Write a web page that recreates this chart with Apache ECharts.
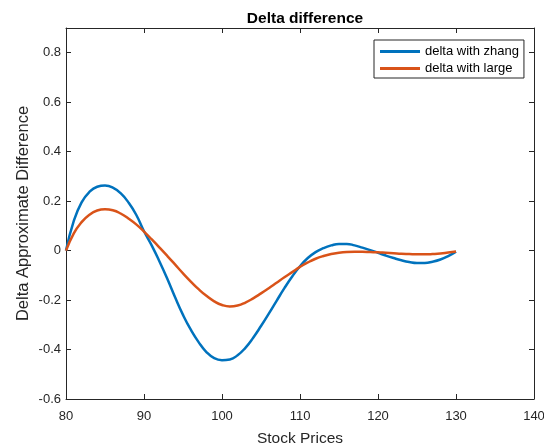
<!DOCTYPE html>
<html>
<head>
<meta charset="utf-8">
<script src="https://cdn.jsdelivr.net/npm/echarts@6/dist/echarts.min.js"></script>
<style>html,body{margin:0;padding:0;background:#fff}#c{width:544px;height:447px}</style>
</head>
<body>
<div id="c"></div>
<script>
const stockPrices = [80,81,82,83,84,85,86,87,88,89,90,91,92,93,94,95,96,97,98,99,100,101,102,103,104,105,106,107,108,109,110,111,112,113,114,115,116,117,118,119,120,121,122,123,124,125,126,127,128,129,130];
const deltaZhang = [0.00,0.12,0.195,0.237,0.258,0.263,0.255,0.232,0.195,0.145,0.078,0.02,-0.045,-0.115,-0.19,-0.26,-0.32,-0.37,-0.41,-0.435,-0.443,-0.44,-0.423,-0.393,-0.352,-0.305,-0.255,-0.203,-0.152,-0.105,-0.063,-0.03,-0.006,0.01,0.021,0.027,0.027,0.021,0.012,0.002,-0.009,-0.02,-0.03,-0.039,-0.046,-0.05,-0.05,-0.045,-0.036,-0.022,-0.004];
const deltaLarge = [0.00,0.07,0.115,0.145,0.162,0.167,0.163,0.15,0.13,0.106,0.077,0.045,0.012,-0.022,-0.057,-0.092,-0.125,-0.156,-0.183,-0.205,-0.22,-0.226,-0.222,-0.21,-0.193,-0.173,-0.152,-0.13,-0.108,-0.087,-0.066,-0.048,-0.033,-0.022,-0.014,-0.009,-0.006,-0.005,-0.005,-0.006,-0.007,-0.009,-0.011,-0.013,-0.014,-0.015,-0.015,-0.014,-0.012,-0.008,-0.004];
const seriesNames = ['delta with zhang','delta with large'];
const titleText = 'Delta difference';
const xName = 'Stock Prices';
const yName = 'Delta Approximate Difference';

const font = 'Liberation Sans, Arial, Helvetica, sans-serif';
const axisColor = '#262626';
const chart = echarts.init(document.getElementById('c'), null, {renderer:'canvas'});
const pairs = ys => stockPrices.map((x,i)=>[x, ys[i]]);
const yFmt = v => { if (Math.abs(Math.round(v/0.2)*0.2 - v) > 1e-6) return ''; return String(Math.round(v*10)/10); };
chart.setOption({
  animation:false,
  backgroundColor:'#fff',
  title:{text:titleText,left:300,textAlign:'center',top:6,textStyle:{fontFamily:font,fontSize:15.5,fontWeight:'bold',color:'#000'}},
  grid:{left:66,right:10,top:28,bottom:48,containLabel:false,outerBoundsMode:'none'},
  legend:{
    orient:'vertical',left:374,top:40,
    padding:[3,5,1,6],itemGap:0,itemWidth:40,itemHeight:3,icon:'rect',
    borderColor:axisColor,borderWidth:1,backgroundColor:'#fff',
    textStyle:{fontFamily:font,fontSize:13,color:'#000',lineHeight:17},
    data:seriesNames
  },
  xAxis:[
    {type:'value',min:80,max:140,interval:10,position:'bottom',
     name:xName,nameLocation:'middle',nameGap:32,
     nameTextStyle:{fontFamily:font,fontSize:15.5,color:axisColor},
     axisLine:{onZero:false,lineStyle:{color:axisColor,width:1}},
     axisTick:{inside:true,length:5,lineStyle:{color:axisColor}},
     axisLabel:{fontFamily:font,fontSize:13,color:axisColor,margin:11},
     splitLine:{show:false}},
    {type:'value',min:80,max:140,interval:10,position:'top',
     axisLine:{onZero:false,lineStyle:{color:axisColor,width:1}},
     axisTick:{inside:true,length:5,lineStyle:{color:axisColor}},
     axisLabel:{show:false},splitLine:{show:false}}
  ],
  yAxis:[
    {type:'value',min:-0.6,max:0.9,interval:0.2,position:'left',
     name:yName,nameLocation:'middle',nameGap:34,nameMoveOverlap:false,
     nameTextStyle:{fontFamily:font,fontSize:16.5,color:axisColor},
     axisLine:{show:true,onZero:false,lineStyle:{color:axisColor,width:1}},
     axisTick:{show:true,inside:true,length:5,lineStyle:{color:axisColor}},
     axisLabel:{fontFamily:font,fontSize:13,color:axisColor,margin:5,formatter:yFmt},
     splitLine:{show:false}},
    {type:'value',min:-0.6,max:0.9,interval:0.2,position:'right',
     axisLine:{show:true,onZero:false,lineStyle:{color:axisColor,width:1}},
     axisTick:{show:true,inside:true,length:5,lineStyle:{color:axisColor}},
     axisLabel:{show:false},splitLine:{show:false}}
  ],
  series:[
    {name:seriesNames[0],type:'line',data:pairs(deltaZhang),smooth:0.5,showSymbol:false,symbol:'none',
     lineStyle:{color:'#0072BD',width:2.5},itemStyle:{color:'#0072BD'}},
    {name:seriesNames[1],type:'line',data:pairs(deltaLarge),smooth:0.5,showSymbol:false,symbol:'none',
     lineStyle:{color:'#D95319',width:2.5},itemStyle:{color:'#D95319'}}
  ]
});
</script>
</body>
</html>
